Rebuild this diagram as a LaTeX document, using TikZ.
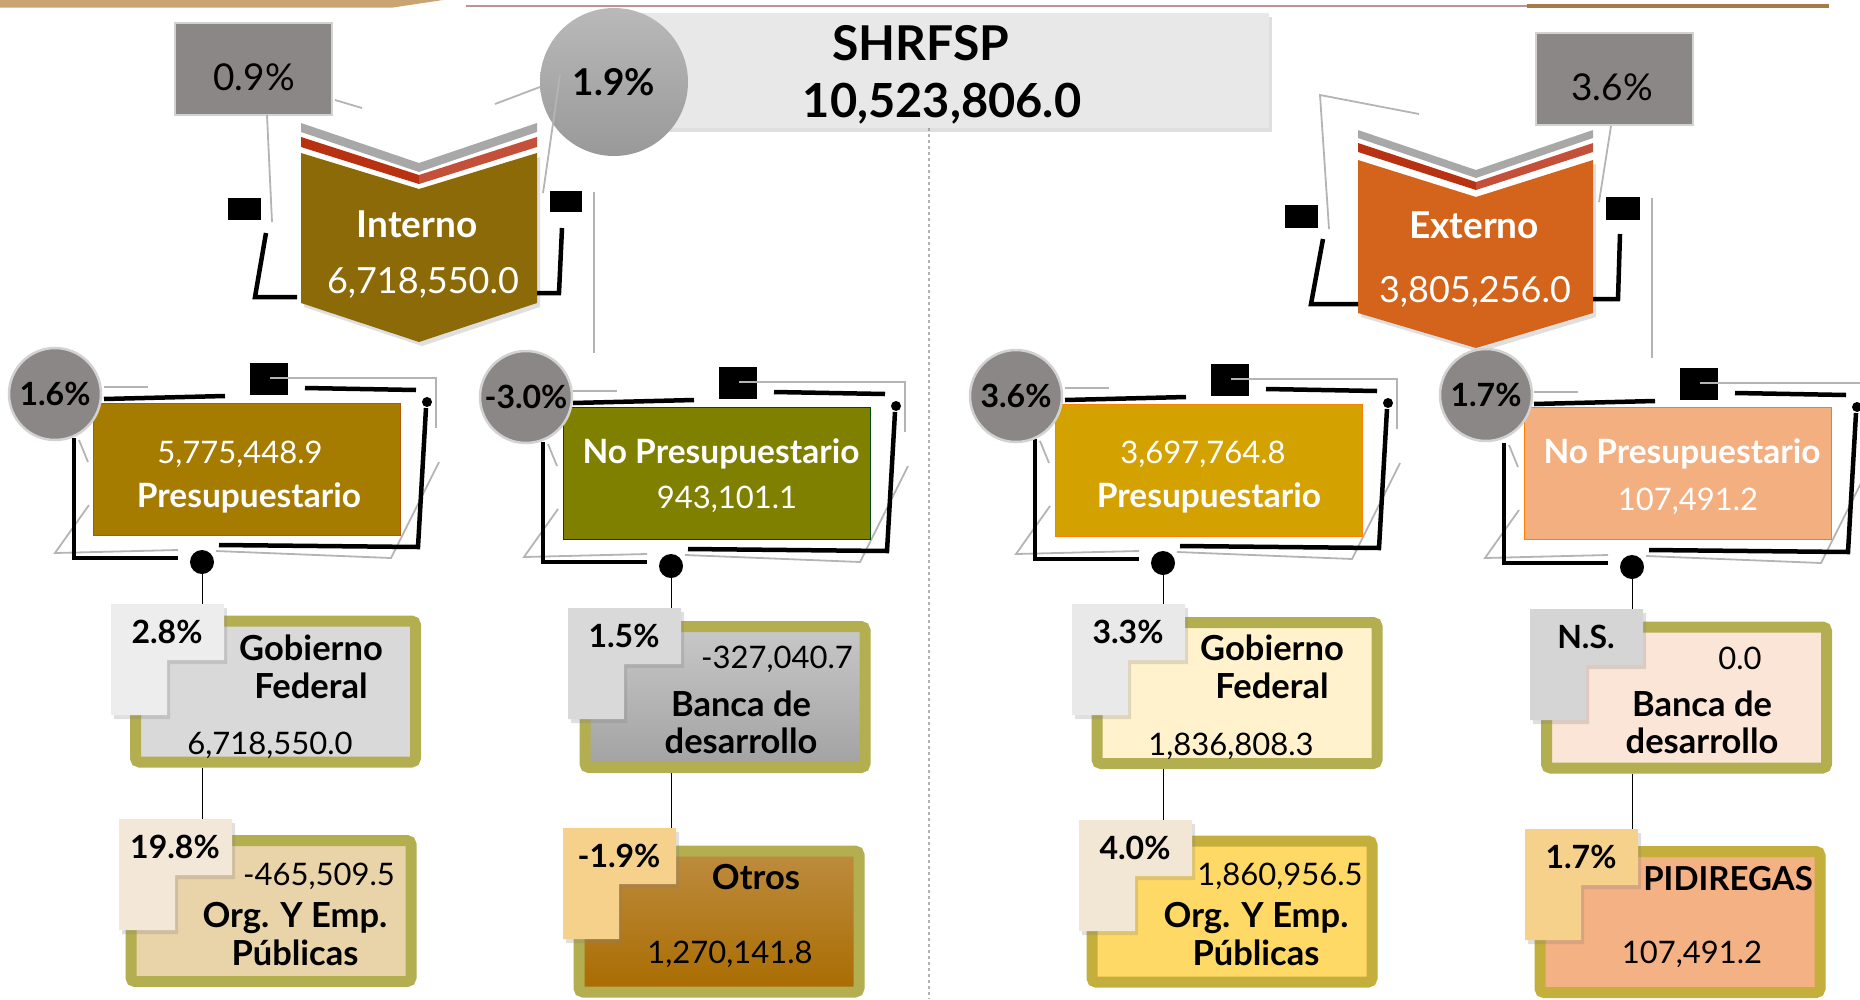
\documentclass[tikz,border=0pt]{standalone}
\usepackage{fontspec}
\setmainfont{Lato}
\usetikzlibrary{shadows}

\definecolor{tanband}{HTML}{C9A372}
\definecolor{topline}{HTML}{B99595}
\definecolor{topthick}{HTML}{A87A45}
\definecolor{linegray}{HTML}{B4B4B4}
\definecolor{boxgray}{HTML}{8C8787}
\definecolor{edgegray}{HTML}{D2D2D2}
\definecolor{interno}{HTML}{8C6A08}
\definecolor{externo}{HTML}{D4631B}
\definecolor{stripegray}{HTML}{A8A8A8}
\definecolor{stripered}{HTML}{B83212}
\definecolor{stripered2}{HTML}{C4503A}
\definecolor{presI}{HTML}{A67C00}
\definecolor{nopI}{HTML}{7F7F00}
\definecolor{presE}{HTML}{D4A200}
\definecolor{nopE}{HTML}{F4AF80}
\definecolor{cardbd}{HTML}{B3AE4F}
\definecolor{cardbd2}{HTML}{C4AE3C}
\definecolor{gobLf}{HTML}{D9D9D9}
\definecolor{orgLf}{HTML}{E9D4A9}
\definecolor{banLt}{HTML}{C8C8C8}
\definecolor{banLb}{HTML}{A2A2A2}
\definecolor{otrT}{HTML}{BE8C40}
\definecolor{otrB}{HTML}{A96C00}
\definecolor{gobRf}{HTML}{FFF2CC}
\definecolor{orgRf}{HTML}{FFD966}
\definecolor{banRf}{HTML}{FBE5D6}
\definecolor{pidf}{HTML}{F4B183}
\definecolor{tabGL}{HTML}{EDEDED}
\definecolor{tabOL}{HTML}{F3E8D8}
\definecolor{tabBL}{HTML}{D9D9D9}
\definecolor{tabOt}{HTML}{F6D18C}
\definecolor{tabGR}{HTML}{E9E9E9}
\definecolor{tabOR}{HTML}{F2E6D5}
\definecolor{tabBR}{HTML}{D5D5D5}

\begin{document}
\begin{tikzpicture}[x=1pt, y=-1pt,
        shade/.style={drop shadow={opacity=0.25, shadow xshift=3pt, shadow yshift=-4pt}},
        thinline/.style={draw=linegray, line width=1.8pt},
        blk/.style={line width=4.5pt},
        conn/.style={line width=1pt},
        pctbox/.style={rectangle, draw=edgegray, line width=2pt, fill=boxgray, minimum width=157pt, minimum height=92pt},
        pcttxt/.style={anchor=base, font=\fontsize{37}{44}\selectfont},
        ring/.style={circle, draw=edgegray, line width=2.5pt, fill=boxgray, minimum size=92pt, inner sep=0pt, font=\bfseries\fontsize{32}{38}\selectfont},
        pbox/.style={rectangle, line width=1pt, minimum width=307pt, minimum height=132pt},
        card/.style={rectangle, rounded corners=4pt, line width=11pt, minimum width=280pt, minimum height=141pt, shade},
        tabtxt/.style={minimum width=113pt, minimum height=56pt, inner sep=0pt, font=\bfseries\fontsize{32}{38}\selectfont},
        bigdot/.style={circle, fill=black, minimum size=24pt, inner sep=0pt},
        wlab/.style={white, anchor=base, font=\bfseries\fontsize{33.5}{40}\selectfont},
        wnum/.style={white, anchor=base, font=\fontsize{31}{37}\selectfont},
        lab/.style={anchor=base, font=\bfseries\fontsize{34.5}{41}\selectfont},
        num/.style={anchor=base, font=\fontsize{31}{37}\selectfont}
    ]
    \useasboundingbox (0,0) rectangle (1860,999);
    \clip (0,0) rectangle (1860,999);

    % Top rules
    \fill[tanband] (0,0) -- (443,0) -- (393,7.5) -- (0,7.5) -- cycle;
    \draw[topline, line width=1.5pt] (466,6) -- (1527,6);
    \draw[topthick, line width=4pt] (1527,6) -- (1829,6);
    \draw[gray!60, dashed, line width=1.5pt] (929,128) -- (929,999);

    % Total
    \node[rectangle, fill=gray!18, minimum width=669pt, minimum height=115pt, shade] (shr) at (934.5,70.5) {};
    \node[anchor=base, font=\bfseries\fontsize{48}{56}\selectfont] (shrT) at (921,60) {SHRFSP};
    \node[anchor=base, font=\bfseries\fontsize{47}{56}\selectfont] (shrV) at (942,117) {10,523,806.0};
    \node[circle, minimum size=148pt, inner sep=0pt, top color=gray!55, bottom color=gray!80, font=\bfseries\fontsize{37}{44}\selectfont] (c19) at (614,82) {1.9\%};

    % Interno
    \fill[stripegray] (301,123) -- (419,163) -- (537,123) -- (537,132) -- (419,172) -- (301,132) -- cycle;
    \fill[stripered] (301,137) -- (419,175) -- (419,184) -- (301,147) -- cycle;
    \fill[stripered2] (419,175) -- (537,137) -- (537,147) -- (419,184) -- cycle;
    \fill[interno, shade] (301,153) -- (419,189) -- (537,153) -- (537,303) -- (419,342) -- (301,303) -- cycle;
    \node[white, anchor=base, font=\bfseries\fontsize{37}{44}\selectfont] (intT) at (417,237) {Interno};
    \node[white, anchor=base, font=\fontsize{36}{44}\selectfont] (intV) at (423,293) {6,718,550.0};
    \node[pctbox] (p09) at (253.5,69) {};
    \node[pcttxt] (p09t) at (254,90) {0.9\%};
    \draw[thinline] (335,100) -- (362,108);
    \draw[thinline] (267,115) -- (272,222);
    \draw[thinline] (495,104) -- (540,87);
    \draw[thinline] (560,75) -- (543,193);
    \draw[thinline] (594,192) -- (594,353);
    \fill (228,198) rectangle (261,220);
    \fill (550,191) rectangle (582,212);
    \draw[blk] (266,233) -- (255,297) -- (297,297);
    \draw[blk] (562,228) -- (559,293) -- (537,293);

    % Externo
    \fill[stripegray] (1358,130) -- (1476,170) -- (1593,130) -- (1593,138) -- (1476,178) -- (1358,138) -- cycle;
    \fill[stripered] (1358,143) -- (1476,182) -- (1476,190) -- (1358,152) -- cycle;
    \fill[stripered2] (1476,182) -- (1593,143) -- (1593,152) -- (1476,190) -- cycle;
    \fill[externo, shade] (1358,160) -- (1476,197) -- (1593,160) -- (1593,313) -- (1476,348) -- (1358,313) -- cycle;
    \node[white, anchor=base, font=\bfseries\fontsize{37}{44}\selectfont] (extT) at (1474,238) {Externo};
    \node[white, anchor=base, font=\fontsize{36}{44}\selectfont] (extV) at (1475,302) {3,805,256.0};
    \node[pctbox] (p36) at (1614.5,79) {};
    \node[pcttxt] (p36t) at (1612,100) {3.6\%};
    \draw[thinline] (1419,114) -- (1320,95) -- (1329,229);
    \draw[thinline] (1611,126) -- (1599,202);
    \draw[thinline] (1652,198) -- (1652,358);
    \fill (1285,205) rectangle (1318,228);
    \fill (1606,197) rectangle (1640,220);
    \draw[blk] (1323,239) -- (1311,304) -- (1358,304);
    \draw[blk] (1620,234) -- (1618,299) -- (1593,299);

    % Frames of the second row
    \foreach \bx/\by/\n in {94/403/a, 563/407/b, 1055/404/c, 1524/408/d}{
        \begin{scope}[shift={(\bx,\by)}]
            \draw[thinline] (10,-16) -- (54,-16);
            \draw[thinline] (-15,37) -- (-6,59);
            \draw[thinline] (-5,102) -- (-39,150) -- (84,147);
            \draw[thinline] (122,148) -- (297,155) -- (345,59);
            \fill (156,-40) rectangle (194,-8);
            \draw[thinline] (176,-25) -- (342,-25) -- (342,25);
            \draw[blk] (10,-4) -- (131,-7);
            \draw[blk] (211,-15) -- (322,-13);
            \draw[blk] (332,5) -- (324,144) -- (125,142);
            \draw[blk] (-20,35) -- (-20,155) -- (84,155);
            \fill (333,-1) circle (5);
            \node[bigdot] (dot\n) at (108,159) {};
        \end{scope}
    }

    % Second row
    \node[pbox, fill=presI, draw=orange!70!black] (presI) at (247,469) {};
    \node[pbox, fill=nopI, draw=green!30!black] (nopI) at (717,473) {};
    \node[pbox, fill=presE, draw=orange] (presE) at (1208.5,470.5) {};
    \node[pbox, fill=nopE, draw=orange] (nopE) at (1678,473.5) {};
    \node[wnum] (presIv) at (240,463) {5,775,448.9};
    \node[wlab] (presIl) at (249,507) {Presupuestario};
    \node[wlab] (nopIl) at (721,463) {No Presupuestario};
    \node[wnum] (nopIv) at (727,508) {943,101.1};
    \node[wnum] (presEv) at (1203,463) {3,697,764.8};
    \node[wlab] (presEl) at (1209,507) {Presupuestario};
    \node[wlab] (nopEl) at (1682,463) {No Presupuestario};
    \node[wnum] (nopEv) at (1688,510) {107,491.2};
    \node[ring] (r16) at (55,394) {1.6\%};
    \node[ring] (r30) at (526,397) {-3.0\%};
    \node[ring] (r36) at (1016,396) {3.6\%};
    \node[ring] (r17) at (1486,395) {1.7\%};

    % Third and fourth rows
    \node[card, draw=cardbd, fill=gobLf] (gobL) at (275.5,691.5) {};
    \node[card, draw=cardbd, fill=orgLf] (orgL) at (271,911) {};
    \node[card, draw=cardbd, top color=banLt, bottom color=banLb] (banL) at (725,697) {};
    \node[card, draw=cardbd, top color=otrT, bottom color=otrB] (otrL) at (719,921.5) {};
    \node[card, draw=cardbd, fill=gobRf] (gobR) at (1237,693) {};
    \node[card, draw=cardbd2, fill=orgRf] (orgR) at (1232,911.5) {};
    \node[card, draw=cardbd, fill=banRf] (banR) at (1686.5,697.5) {};
    \node[card, draw=cardbd2, fill=pidf] (pidR) at (1680,922) {};

    \foreach \tx/\ty/\tc/\tn/\tp in {111/604/tabGL/tGL/2.8\%, 119/819/tabOL/tOL/19.8\%,
            568/608/tabBL/tBL/1.5\%, 563/828/tabOt/tOt/-1.9\%, 1072/604/tabGR/tGR/3.3\%,
            1079/820/tabOR/tOR/4.0\%, 1530/609/tabBR/tBR/N.S., 1525/829/tabOt/tPI/1.7\%}{
        \fill[\tc, shade] (\tx,\ty) -- ++(113,0) -- ++(0,56) -- ++(-57,0) -- ++(0,55) -- ++(-56,0) -- cycle;
        \node[tabtxt] (\tn) at (\tx+56,\ty+28) {\tp};
    }

    \node[lab] (gobLa) at (311,660) {Gobierno};
    \node[lab] (gobLb) at (311,698) {Federal};
    \node[num] (gobLv) at (270,754) {6,718,550.0};
    \node[num] (orgLv) at (319,885) {-465,509.5};
    \node[lab] (orgLa) at (295,927) {Org. Y Emp.};
    \node[lab] (orgLb) at (295,965) {Públicas};
    \node[num] (banLv) at (777,668) {-327,040.7};
    \node[lab] (banLa) at (741,716) {Banca de};
    \node[lab] (banLb) at (741,753) {desarrollo};
    \node[lab] (otrLa) at (756,889) {Otros};
    \node[num] (otrLv) at (730,963) {1,270,141.8};
    \node[lab] (gobRa) at (1272,660) {Gobierno};
    \node[lab] (gobRb) at (1272,698) {Federal};
    \node[num] (gobRv) at (1231,755) {1,836,808.3};
    \node[num] (orgRv) at (1280,885) {1,860,956.5};
    \node[lab] (orgRa) at (1256,927) {Org. Y Emp.};
    \node[lab] (orgRb) at (1256,965) {Públicas};
    \node[num] (banRv) at (1740,669) {0.0};
    \node[lab] (banRa) at (1702,716) {Banca de};
    \node[lab] (banRb) at (1702,753) {desarrollo};
    \node[lab, font=\bfseries\fontsize{33}{40}\selectfont] (pidRa) at (1728,890) {PIDIREGAS};
    \node[num] (pidRv) at (1692,963) {107,491.2};

    % Connectors
    \draw[conn] (dota) -- (dota |- tGL.north);
    \draw[conn] (gobL.south -| dota) -- (dota |- tOL.north);
    \draw[conn] (dotb) -- (dotb |- tBL.north);
    \draw[conn] (banL.south -| dotb) -- (dotb |- tOt.north);
    \draw[conn] (dotc) -- (dotc |- tGR.north);
    \draw[conn] (gobR.south -| dotc) -- (dotc |- tOR.north);
    \draw[conn] (dotd) -- (dotd |- tBR.north);
    \draw[conn] (banR.south -| dotd) -- (dotd |- tPI.north);
\end{tikzpicture}
\end{document}
